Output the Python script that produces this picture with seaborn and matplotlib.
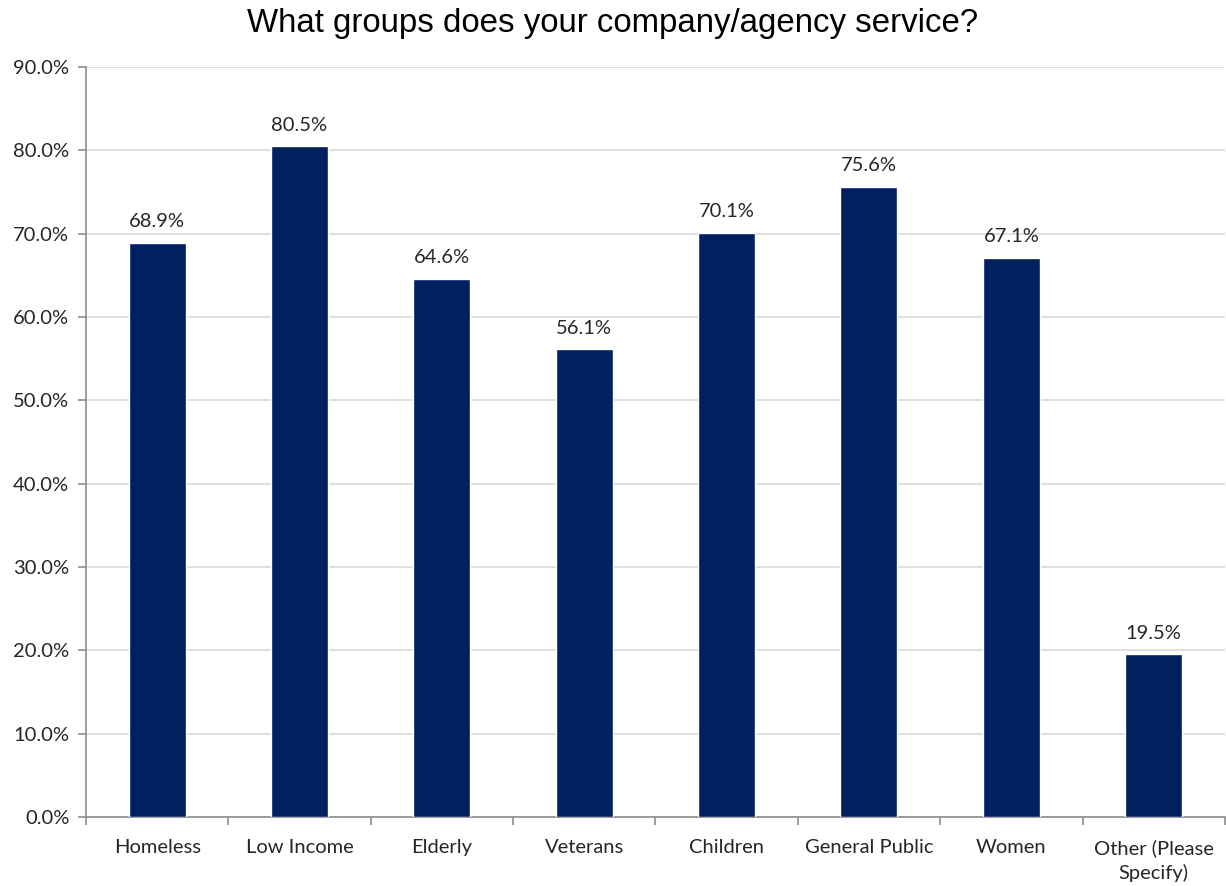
import matplotlib
matplotlib.use("Agg")
import matplotlib.pyplot as plt
import seaborn as sns
import pandas as pd
from matplotlib.ticker import FixedLocator, PercentFormatter

categories = ["Homeless", "Low Income", "Elderly", "Veterans", "Children",
              "General Public", "Women", "Other (Please\nSpecify)"]
values = [68.9, 80.5, 64.6, 56.1, 70.1, 75.6, 67.1, 19.5]
title = "What groups does your company/agency service?"

df = pd.DataFrame({"group": categories, "pct": values})

sns.set_theme(style="white")
plt.rcParams['font.family'] = ['Lato', 'DejaVu Sans']

fig = plt.figure(figsize=(12.26, 8.86), dpi=100)
ax = fig.add_axes([0.0701, 0.0779, 0.9290, 0.8465])

sns.barplot(data=df, x="group", y="pct", color="#002060", width=0.4,
            saturation=1, ax=ax, zorder=3)

ax.set_ylim(0, 90)
ax.set_xlim(-0.5, len(categories) - 0.5)
ax.set_yticks([i * 10 for i in range(10)])
ax.yaxis.set_major_formatter(PercentFormatter(decimals=1))
ax.grid(axis="y", color="#d9d9d9", linewidth=1.2, zorder=0)
ax.set_axisbelow(True)

for s in ["top", "right"]:
    ax.spines[s].set_visible(False)
for s in ["left", "bottom"]:
    ax.spines[s].set_color("#8c8c8c")
    ax.spines[s].set_linewidth(1.2)

ax.tick_params(axis="y", length=6, width=1.2, color="#8c8c8c", labelsize=14.5,
               labelcolor="#262626", pad=6, left=True)
ax.tick_params(axis="x", which="major", length=0, labelsize=14.5,
               labelcolor="#262626", pad=16)
for lbl in ax.get_xticklabels():
    lbl.set_linespacing(1.45)
ax.xaxis.set_minor_locator(FixedLocator([i - 0.5 for i in range(len(categories) + 1)]))
ax.tick_params(axis="x", which="minor", length=6, width=1.2, color="#8c8c8c",
               bottom=True)
ax.set_xlabel("")
ax.set_ylabel("")

for cont in ax.containers:
    ax.bar_label(cont, labels=[f"{v:.1f}%" for v in values], padding=9,
                 fontsize=14.5, color="#262626")

fig.text(0.5, 0.974, title, ha="center", va="center", fontsize=23.8,
         family=["Liberation Sans", "DejaVu Sans"], color="#000000")

fig.savefig("out.png", dpi=100)
